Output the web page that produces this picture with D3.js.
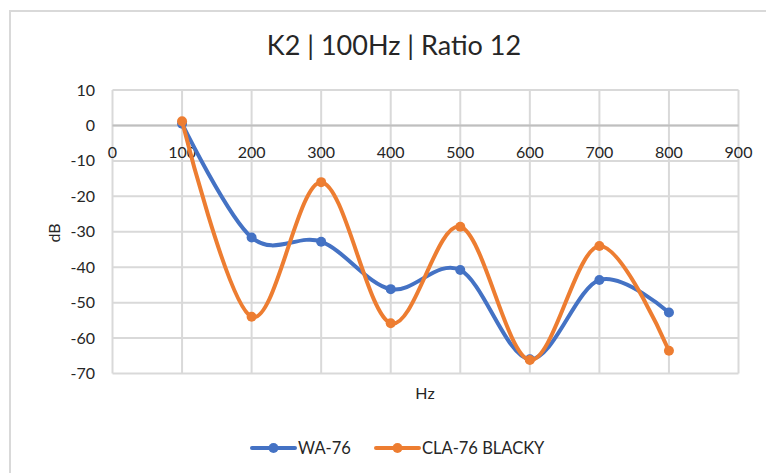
<!DOCTYPE html>
<html>
<head>
<meta charset="utf-8">
<script src="https://cdn.jsdelivr.net/npm/d3@7"></script>
<style>
  body { margin: 0; background: #fff; }
  text { font-family: Lato, "Open Sans", sans-serif; fill: #262626; }
</style>
</head>
<body>
<div id="chart"></div>
<script>
const hz = [100, 200, 300, 400, 500, 600, 700, 800]
const wa76 = [0.5, -31.6, -32.8, -46.2, -40.8, -66, -43.6, -52.8]
const cla76 = [1.2, -54, -16, -55.8, -28.6, -66.2, -34, -63.6]
const series = [
  { name: "WA-76", values: wa76, color: "#4472C4" },
  { name: "CLA-76 BLACKY", values: cla76, color: "#ED7D31" }
]
const xTicks = [0, 100, 200, 300, 400, 500, 600, 700, 800, 900]
const yTicks = [10, 0, -10, -20, -30, -40, -50, -60, -70]

const width = 766, height = 473
const svg = d3.select("#chart").append("svg")
  .attr("width", width)
  .attr("height", height)

// chart frame
svg.append("rect")
  .attr("x", 10).attr("y", 11)
  .attr("width", 770).attr("height", 480)
  .attr("fill", "#fff")
  .attr("stroke", "#d9d9d9")
  .attr("stroke-width", 2)

const x = d3.scaleLinear().domain([0, 900]).range([112.5, 738.5])
const y = d3.scaleLinear().domain([-70, 10]).range([373.5, 90])

// gridlines
svg.append("g").selectAll("line.h")
  .data(yTicks)
  .enter().append("line")
    .attr("x1", x(0)).attr("x2", x(900))
    .attr("y1", d => y(d)).attr("y2", d => y(d))
    .attr("stroke", "#d9d9d9").attr("stroke-width", 2)
svg.append("g").selectAll("line.v")
  .data(xTicks)
  .enter().append("line")
    .attr("x1", d => x(d)).attr("x2", d => x(d))
    .attr("y1", y(10)).attr("y2", y(-70))
    .attr("stroke", "#d9d9d9").attr("stroke-width", 2)

// y=0 axis line
svg.append("line")
  .attr("x1", x(0)).attr("x2", x(900))
  .attr("y1", y(0)).attr("y2", y(0))
  .attr("stroke", "#bfbfbf").attr("stroke-width", 2)

// tick labels
svg.append("g").selectAll("text")
  .data(yTicks)
  .enter().append("text")
    .attr("x", 95)
    .attr("y", d => y(d))
    .attr("dy", "0.35em")
    .attr("text-anchor", "end")
    .attr("font-size", 16)
    .text(d => d)
svg.append("g").selectAll("text")
  .data(xTicks)
  .enter().append("text")
    .attr("x", d => x(d))
    .attr("y", 152)
    .attr("dy", "0.35em")
    .attr("text-anchor", "middle")
    .attr("font-size", 16)
    .text(d => d)

// titles
svg.append("text")
  .attr("x", 394).attr("y", 46)
  .attr("dy", "0.35em")
  .attr("text-anchor", "middle")
  .attr("font-size", 27)
  .text("K2 | 100Hz | Ratio 12")
svg.append("text")
  .attr("x", 425).attr("y", 393)
  .attr("dy", "0.35em")
  .attr("text-anchor", "middle")
  .attr("font-size", 16)
  .text("Hz")
svg.append("text")
  .attr("transform", "translate(54,233) rotate(-90)")
  .attr("dy", "0.35em")
  .attr("text-anchor", "middle")
  .attr("font-size", 16)
  .text("dB")

// series
const line = d3.line()
  .x((d, i) => x(hz[i]))
  .y(d => y(d))
  .curve(d3.curveCardinal.tension(0))

series.forEach(s => {
  const g = svg.append("g")
  g.append("path")
    .attr("d", line(s.values))
    .attr("fill", "none")
    .attr("stroke", s.color)
    .attr("stroke-width", 4)
    .attr("stroke-linecap", "round")
  g.selectAll("circle")
    .data(s.values)
    .enter().append("circle")
      .attr("cx", (d, i) => x(hz[i]))
      .attr("cy", d => y(d))
      .attr("r", 5)
      .attr("fill", s.color)
})

// legend
const legendPos = [{ x: 252, tx: 298 }, { x: 376, tx: 422 }]
series.forEach((s, i) => {
  const lg = svg.append("g")
  const lx = legendPos[i].x
  lg.append("line")
    .attr("x1", lx).attr("x2", lx + 43)
    .attr("y1", 448).attr("y2", 448)
    .attr("stroke", s.color).attr("stroke-width", 4)
    .attr("stroke-linecap", "round")
  lg.append("circle")
    .attr("cx", lx + 21.5).attr("cy", 448).attr("r", 5)
    .attr("fill", s.color)
  lg.append("text")
    .attr("x", legendPos[i].tx).attr("y", 448)
    .attr("dy", "0.35em")
    .attr("font-size", 16.5)
    .text(s.name)
})
</script>
</body>
</html>
